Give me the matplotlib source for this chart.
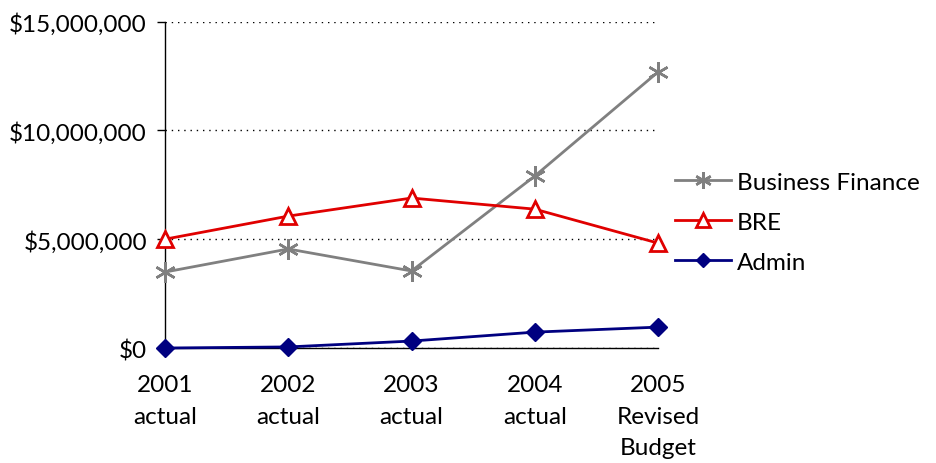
import matplotlib.pyplot as plt
from matplotlib.ticker import FuncFormatter

plt.rcParams['font.family'] = ['Lato', 'DejaVu Sans']

years = ['2001\nactual', '2002\nactual', '2003\nactual', '2004\nactual', '2005\nRevised\nBudget']
business_finance = [3.49e6, 4.55e6, 3.54e6, 7.9e6, 12.68e6]
bre = [5.0e6, 6.06e6, 6.89e6, 6.38e6, 4.82e6]
admin = [0.0, 0.05e6, 0.32e6, 0.73e6, 0.96e6]

fig = plt.figure(figsize=(9.36, 4.64), dpi=100)
ax = fig.add_axes([0.1763, 0.2478, 0.703 - 0.1763, 0.9515 - 0.2478])

x = range(len(years))
ax.plot(x, business_finance, color='#808080', lw=2, marker=(6, 2, 0),
        ms=15, mew=1.8, label='Business Finance', clip_on=False, zorder=3)
ax.plot(x, bre, color='#e00000', lw=2, marker='^', ms=12, mew=2,
        mfc='white', mec='#e00000', label='BRE', clip_on=False, zorder=4)
ax.plot(x, admin, color='#000080', lw=2, marker='D', ms=9,
        label='Admin', clip_on=False, zorder=5)

ax.set_xlim(0, len(years) - 1)
ax.set_ylim(0, 15e6)
ax.set_yticks([0, 5e6, 10e6, 15e6])
ax.yaxis.set_major_formatter(FuncFormatter(lambda v, p: f'${v:,.0f}'))
ax.set_xticks(list(x))
ax.set_xticklabels(years, linespacing=1.6)

ax.grid(axis='y', color='black', linestyle=(0, (1, 3.5)), lw=1.0)
ax.set_axisbelow(True)
for s in ['top', 'right']:
    ax.spines[s].set_visible(False)
ax.spines['left'].set_linewidth(1)
ax.spines['bottom'].set_linewidth(1)
ax.tick_params(axis='y', length=6, width=1, labelsize=17.5, pad=7)
ax.tick_params(axis='x', length=0, labelsize=17.5, pad=19)

leg = ax.legend(loc='center left', bbox_to_anchor=(1.0, 0.385), frameon=False,
                fontsize=17.5, handlelength=2.3, handletextpad=0.25,
                labelspacing=0.78, borderaxespad=0.3, markerscale=0.8)

fig.savefig('out.png', dpi=100)
